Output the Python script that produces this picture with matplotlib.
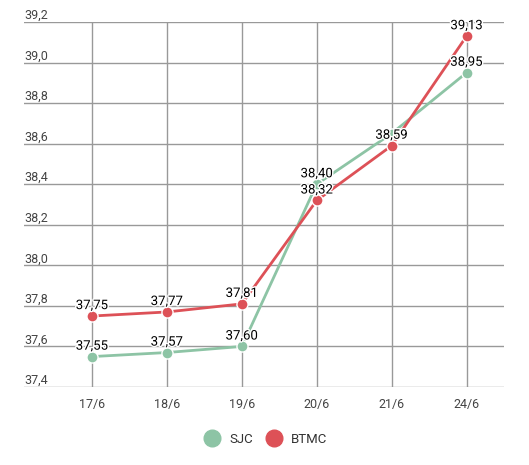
import matplotlib
matplotlib.use("Agg")
import matplotlib.pyplot as plt
import matplotlib.patheffects as pe
from matplotlib.lines import Line2D

categories = ["17/6", "18/6", "19/6", "20/6", "21/6", "24/6"]
sjc = [37.55, 37.57, 37.60, 38.40, 38.65, 38.95]
btmc = [37.75, 37.77, 37.81, 38.32, 38.59, 39.13]
sjc_show = [True, True, True, True, False, True]
btmc_show = [True, True, True, True, True, True]
yticks = [37.4, 37.6, 37.8, 38.0, 38.2, 38.4, 38.6, 38.8, 39.0, 39.2]

GREEN = "#8dc4a5"
RED = "#dd5157"

plt.rcParams["font.family"] = ["Roboto", "DejaVu Sans"]

fig = plt.figure(figsize=(5.29, 4.65), dpi=100)
ax = fig.add_axes([24/529, 78/465, 480/529, 365/465])

x = list(range(len(categories)))
ax.set_xlim(-0.908, 5.5)
ax.set_ylim(37.4, 39.2)

for s in ax.spines.values():
    s.set_visible(False)

ax.set_yticks(yticks)
ax.set_yticklabels([])
ax.set_xticks(x)
ax.set_xticklabels(categories, fontsize=9, color="#444444")
ax.tick_params(axis="both", length=0)
ax.tick_params(axis="x", pad=8)
ax.grid(True, color="#999999", linewidth=1)
ax.set_axisbelow(True)

for t in yticks:
    ax.text(0, t, f"{t:.1f}".replace(".", ","), transform=ax.get_yaxis_transform(),
            ha="left", va="bottom", fontsize=9, color="#444444")

for vals, color, show in ((sjc, GREEN, sjc_show), (btmc, RED, btmc_show)):
    ax.plot(x, vals, color=color, linewidth=2, marker="o", markersize=8,
            markeredgecolor="white", markeredgewidth=1, zorder=3)
    for xi, v, sh in zip(x, vals, show):
        if sh:
            ax.annotate(f"{v:.2f}".replace(".", ","), (xi, v), xytext=(0, 7.5),
                        textcoords="offset points", ha="center", va="center",
                        fontsize=9.5, color="black", zorder=5,
                        path_effects=[pe.withStroke(linewidth=2, foreground="white")])

handles = [Line2D([], [], linestyle="none", marker="o", markersize=12, color=GREEN),
           Line2D([], [], linestyle="none", marker="o", markersize=12, color=RED)]
fig.legend(handles, ["SJC", "BTMC"], loc="center", bbox_to_anchor=(263/529, 1 - 439/465),
           ncol=2, frameon=False, fontsize=9.5, handletextpad=0.3, columnspacing=0.6,
           labelcolor="#333333")

fig.savefig("out.png", dpi=100)
